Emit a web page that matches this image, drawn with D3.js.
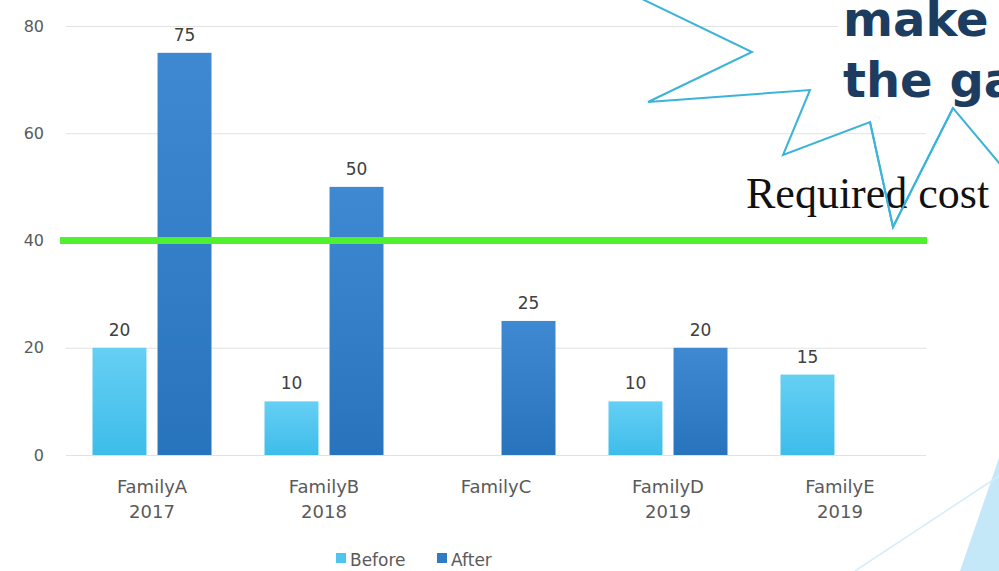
<!DOCTYPE html>
<html>
<head>
<meta charset="utf-8">
<script src="https://cdn.jsdelivr.net/npm/d3@7"></script>
<style>
  html, body { margin: 0; padding: 0; background: #ffffff; }
  svg { display: block; }
</style>
</head>
<body>
<svg id="chart" width="999" height="571"></svg>
<script>
// ---- data ----
const categories = ["FamilyA", "FamilyB", "FamilyC", "FamilyD", "FamilyE"];
const categoryYears = ["2017", "2018", "", "2019", "2019"];
const seriesNames = ["Before", "After"];
const beforeValues = [20, 10, null, 10, 15];
const afterValues = [75, 50, 25, 20, null];
const requiredCost = 40;
const yTicks = [0, 20, 40, 60, 80];
const calloutLines = ["make", "the ga"];
const requiredLabel = "Required cost";

// ---- setup ----
const svg = d3.select("#chart");
const plot = { left: 66, right: 926, top: 26, bottom: 455 };

const x0 = d3.scaleBand().domain(categories).range([plot.left, plot.right]).padding(0);
const groupPad = 26.5;
const x1 = d3.scaleBand().domain(seriesNames)
  .range([groupPad, x0.bandwidth() - groupPad]).paddingInner(0.17);
const y = d3.scaleLinear().domain([0, 80]).range([plot.bottom, plot.top]);

const colors = { Before: ["#66cff4", "#3dbdea"], After: ["#3f89d3", "#2874bc"] };
const legendColors = { Before: "#4fc4ef", After: "#2f7cc4" };

const defs = svg.append("defs");
seriesNames.forEach(s => {
  const g = defs.append("linearGradient").attr("id", "grad-" + s)
    .attr("x1", 0).attr("y1", 0).attr("x2", 0).attr("y2", 1);
  g.append("stop").attr("offset", "0%").attr("stop-color", colors[s][0]);
  g.append("stop").attr("offset", "100%").attr("stop-color", colors[s][1]);
});

// gridlines + y tick labels
const yAxis = d3.axisLeft(y).tickValues(yTicks).tickSize(-(plot.right - plot.left)).tickPadding(22);
const gy = svg.append("g").attr("transform", `translate(${plot.left},0)`).call(yAxis);
gy.select(".domain").remove();
gy.selectAll(".tick line").attr("stroke", "#e2e2e2").attr("stroke-width", 1.2);
gy.selectAll(".tick text")
  .attr("fill", "#5a5a5a").attr("font-family", "DejaVu Sans, sans-serif").attr("font-size", 16);

// bars
const rows = categories.map((c, i) => ({ cat: c, year: categoryYears[i],
  vals: [{ s: "Before", v: beforeValues[i] }, { s: "After", v: afterValues[i] }] }));

const groups = svg.append("g").selectAll("g").data(rows).join("g")
  .attr("transform", d => `translate(${x0(d.cat)},0)`);

groups.selectAll("rect").data(d => d.vals.filter(e => e.v != null)).join("rect")
  .attr("x", d => x1(d.s))
  .attr("width", x1.bandwidth())
  .attr("y", d => y(d.v))
  .attr("height", d => y(0) - y(d.v))
  .attr("fill", d => `url(#grad-${d.s})`);

groups.selectAll("text.val").data(d => d.vals.filter(e => e.v != null)).join("text")
  .attr("class", "val")
  .attr("x", d => x1(d.s) + x1.bandwidth() / 2)
  .attr("y", d => y(d.v) - 12)
  .attr("text-anchor", "middle")
  .attr("fill", "#404040")
  .attr("font-family", "DejaVu Sans, sans-serif")
  .attr("font-size", 17)
  .text(d => d.v);

// category labels
const catText = svg.append("g").selectAll("text").data(rows).join("text")
  .attr("x", d => x0(d.cat) + x0.bandwidth() / 2)
  .attr("y", 493)
  .attr("text-anchor", "middle")
  .attr("fill", "#5a5a5a")
  .attr("font-family", "DejaVu Sans, sans-serif")
  .attr("font-size", 18);
catText.append("tspan").attr("x", d => x0(d.cat) + x0.bandwidth() / 2).text(d => d.cat);
catText.append("tspan").attr("x", d => x0(d.cat) + x0.bandwidth() / 2).attr("dy", 25).text(d => d.year);

// required cost line
svg.append("line")
  .attr("x1", 60).attr("x2", 927)
  .attr("y1", y(requiredCost)).attr("y2", y(requiredCost))
  .attr("stroke", "#4ff02e").attr("stroke-width", 7);

// legend
const legend = svg.append("g").attr("font-family", "DejaVu Sans, sans-serif").attr("font-size", 17).attr("fill", "#5a5a5a");
const legendX = [336, 437];
seriesNames.forEach((s, i) => {
  legend.append("rect").attr("x", legendX[i]).attr("y", 553).attr("width", 10).attr("height", 10)
    .attr("fill", legendColors[s]);
  legend.append("text").attr("x", legendX[i] + 14).attr("y", 566).text(s);
});

// decorations: callout
svg.append("rect").attr("x", 838).attr("y", 0).attr("width", 161).attr("height", 112).attr("fill", "#ffffff");
svg.append("polyline")
  .attr("points", "640,-2 752,52 648,102 810,90 783,155 870,122 893,227 953,108 1005,170")
  .attr("fill", "none").attr("stroke", "#3cb3d9").attr("stroke-width", 2).attr("stroke-linejoin", "miter");

const callout = svg.append("text").attr("font-family", "DejaVu Sans, sans-serif").attr("font-weight", "bold")
  .attr("font-size", 48).attr("fill", "#1c3d5f");
callout.append("tspan").attr("x", 843).attr("y", 36).text(calloutLines[0]);
callout.append("tspan").attr("x", 843).attr("y", 97).text(calloutLines[1]);

svg.append("text").attr("x", 746).attr("y", 208)
  .attr("font-family", "Liberation Serif, serif").attr("font-size", 44).attr("fill", "#111111")
  .text(requiredLabel);

// redraw the part of callout line crossing the text
svg.append("polyline")
  .attr("points", "870,122 893,227 953,108")
  .attr("fill", "none").attr("stroke", "#3cb3d9").attr("stroke-width", 2);

// bottom-right shapes
svg.append("polygon").attr("points", "960,571 999,458 999,571").attr("fill", "#c4e8f7");
svg.append("line").attr("x1", 855).attr("y1", 571).attr("x2", 999).attr("y2", 476)
  .attr("stroke", "#d3eef8").attr("stroke-width", 1.5);
</script>
</body>
</html>
